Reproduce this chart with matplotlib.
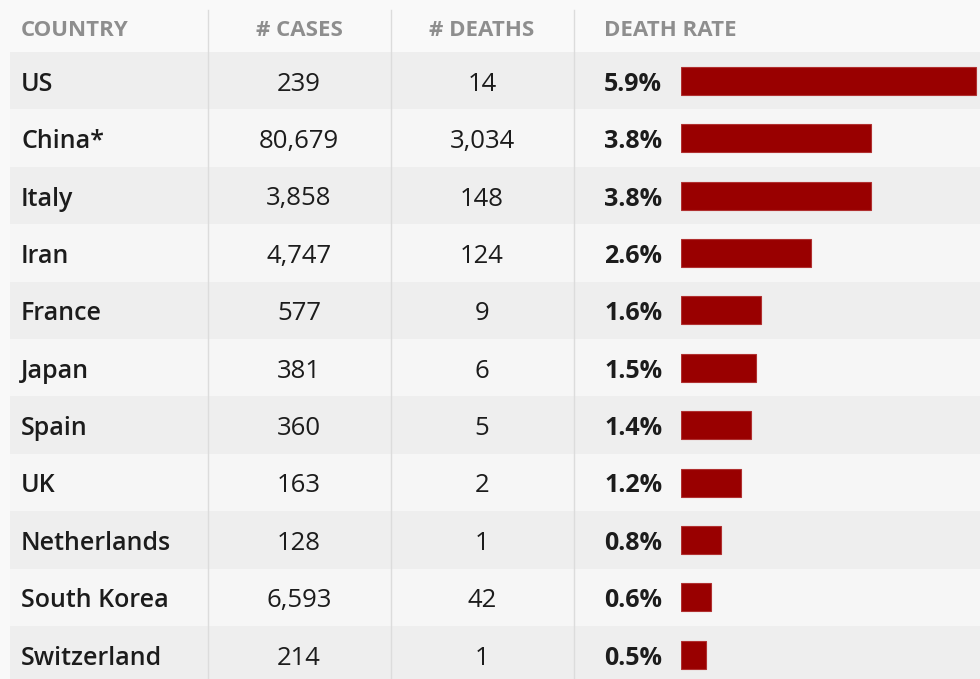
import matplotlib.pyplot as plt

plt.rcParams['font.family'] = ['Open Sans', 'DejaVu Sans']

countries = ['US', 'China*', 'Italy', 'Iran', 'France', 'Japan', 'Spain', 'UK',
             'Netherlands', 'South Korea', 'Switzerland']
cases = ['239', '80,679', '3,858', '4,747', '577', '381', '360', '163', '128', '6,593', '214']
deaths = ['14', '3,034', '148', '124', '9', '6', '5', '2', '1', '42', '1']
rates = [5.9, 3.8, 3.8, 2.6, 1.6, 1.5, 1.4, 1.2, 0.8, 0.6, 0.5]
headers = ['COUNTRY', '# CASES', '# DEATHS', 'DEATH RATE']

W, H = 980, 679
row_top = 52
row_h = 57.4

fig = plt.figure(figsize=(9.8, 6.79), dpi=100)
fig.patch.set_facecolor('#f9f9f9')
ax = fig.add_axes([0, 0, 1, 1])
ax.set_xlim(0, W)
ax.set_ylim(H, 0)
ax.axis('off')

centers = [row_top + row_h * (i + 0.5) for i in range(len(countries))]

# row bands
for i, yc in enumerate(centers):
    col = '#eeeeee' if i % 2 == 0 else '#f6f6f6'
    ax.axhspan(yc - row_h / 2, yc + row_h / 2, xmin=10 / W, xmax=1, color=col, lw=0, zorder=0)

# column separators
for x in [208, 391, 574]:
    ax.plot([x, x], [10, H], color='#dcdcdc', lw=1, zorder=1)

# header
hy = 28
hk = dict(va='center_baseline', fontsize=16, fontweight='bold', color='#8e8e8e')
ax.text(21, hy, headers[0], ha='left', **hk)
ax.text(299, hy, headers[1], ha='center', **hk)
ax.text(482, hy, headers[2], ha='center', **hk)
ax.text(604, hy, headers[3], ha='left', **hk)

for i, yc in enumerate(centers):
    y = yc + 0.5
    ax.text(21, y, countries[i], ha='left', va='center_baseline', fontsize=18, fontweight='semibold', color='#1c1c1c')
    ax.text(299, y, cases[i], ha='center', va='center_baseline', fontsize=18.5, color='#1c1c1c')
    ax.text(482, y, deaths[i], ha='center', va='center_baseline', fontsize=18.5, color='#1c1c1c')
    ax.text(604, y, '%.1f%%' % rates[i], ha='left', va='center_baseline', fontsize=18, fontweight='bold', color='#1c1c1c')

# bars
bx = fig.add_axes([681 / W, 0, (W - 681) / W, 1])
bx.set_xlim(0, (W - 681) / 50.0)
bx.set_ylim(H, 0)
bx.axis('off')
bx.barh(centers, rates, height=28, left=0, color='#990000', edgecolor='#b03030', lw=0.8)

fig.savefig('out.png', dpi=100, facecolor=fig.get_facecolor())
